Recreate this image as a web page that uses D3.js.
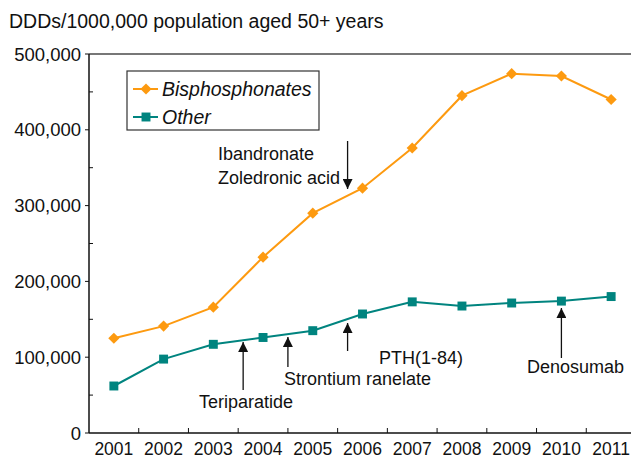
<!DOCTYPE html>
<html>
<head>
<meta charset="utf-8">
<script src="https://cdn.jsdelivr.net/npm/d3@7"></script>
<style>
  body { margin: 0; background: #fff; }
  text { font-family: "Liberation Sans", Arial, sans-serif; fill: #111; }
</style>
</head>
<body>
<script>
var years = ["2001", "2002", "2003", "2004", "2005", "2006", "2007", "2008", "2009", "2010", "2011"];
var bisphosphonates = [125000, 141000, 166000, 232000, 290000, 323000, 376000, 445000, 474000, 471000, 440000];
var other = [62000, 97500, 117000, 126000, 135000, 157000, 173000, 167500, 171500, 174000, 180000];
var yTicks = [0, 100000, 200000, 300000, 400000, 500000];
var yMinorTicks = [50000, 150000, 250000, 350000, 450000];

// annotations: position given as fractional band index
var notes = [
  { lines: ["Ibandronate", "Zoledronic acid"], at: 5.2, dir: "down" },
  { lines: ["Teriparatide"], at: 3.1, dir: "up" },
  { lines: ["Strontium ranelate"], at: 4.0, dir: "up" },
  { lines: ["PTH(1-84)"], at: 5.2, dir: "up" },
  { lines: ["Denosumab"], at: 9.5, dir: "up" }
];

var width = 631, height = 458;
var margin = { top: 54, right: -5, bottom: 25, left: 89 };

var svg = d3.select("body").append("svg")
  .attr("width", width)
  .attr("height", height);

var x = d3.scaleBand().domain(years).range([margin.left, width - margin.right]);
var y = d3.scaleLinear().domain([0, 500000]).range([height - margin.bottom, margin.top]);
var cx = function (i) { return x(years[i]) + x.bandwidth() / 2; };
var fx = function (f) { return margin.left + f * x.bandwidth(); };

var orange = "#fd9a10", teal = "#00847f";

svg.append("text")
  .attr("x", 9).attr("y", 28)
  .style("font-size", "19.5px")
  .text("DDDs/1000,000 population aged 50+ years");

// top frame line
svg.append("line")
  .attr("x1", margin.left).attr("x2", width)
  .attr("y1", y(500000)).attr("y2", y(500000))
  .attr("stroke", "#777").attr("stroke-width", 2);

// y axis
var yAxis = svg.append("g").attr("transform", "translate(" + margin.left + ",0)");
yAxis.append("line").attr("y1", y(0)).attr("y2", y(500000)).attr("stroke", "#111").attr("stroke-width", 1.5);
yAxis.selectAll(".maj").data(yTicks).enter().append("line")
  .attr("x1", -4).attr("x2", 0).attr("y1", y).attr("y2", y).attr("stroke", "#111");
yAxis.selectAll(".min").data(yMinorTicks).enter().append("line")
  .attr("x1", 0).attr("x2", 4).attr("y1", y).attr("y2", y).attr("stroke", "#111");
yAxis.selectAll(".lab").data(yTicks).enter().append("text")
  .attr("x", -8).attr("y", function (d) { return y(d); })
  .attr("dy", "0.36em")
  .attr("text-anchor", "end")
  .style("font-size", "18.5px")
  .text(function (d) { return d3.format(",")(d); });

// x axis
var xAxis = svg.append("g").attr("transform", "translate(0," + y(0) + ")");
xAxis.append("line").attr("x1", margin.left).attr("x2", width).attr("stroke", "#111").attr("stroke-width", 1.5);
xAxis.selectAll(".tk").data(years.slice(1)).enter().append("line")
  .attr("x1", function (d) { return x(d); }).attr("x2", function (d) { return x(d); })
  .attr("y1", 0).attr("y2", -5).attr("stroke", "#111");
xAxis.selectAll(".lab").data(years).enter().append("text")
  .attr("x", function (d, i) { return cx(i); })
  .attr("y", 22)
  .attr("text-anchor", "middle")
  .style("font-size", "17.5px")
  .text(function (d) { return d; });

// lines
var line = d3.line().x(function (d, i) { return cx(i); }).y(function (d) { return y(d); });

svg.append("path").datum(bisphosphonates)
  .attr("fill", "none").attr("stroke", orange).attr("stroke-width", 2).attr("d", line);
svg.append("path").datum(other)
  .attr("fill", "none").attr("stroke", teal).attr("stroke-width", 2).attr("d", line);

var diamond = d3.symbol().type(d3.symbolDiamond2).size(80);
var square = d3.symbol().type(d3.symbolSquare).size(80);

svg.selectAll(".bp").data(bisphosphonates).enter().append("path")
  .attr("d", diamond)
  .attr("fill", orange)
  .attr("transform", function (d, i) { return "translate(" + cx(i) + "," + y(d) + ")"; });
svg.selectAll(".ot").data(other).enter().append("path")
  .attr("d", square)
  .attr("fill", teal)
  .attr("transform", function (d, i) { return "translate(" + cx(i) + "," + y(d) + ")"; });

// legend
var lg = svg.append("g");
lg.append("rect").attr("x", 127).attr("y", 71).attr("width", 192).attr("height", 59)
  .attr("fill", "#fff").attr("stroke", "#333").attr("stroke-width", 1.2);
var items = [{ name: "Bisphosphonates", c: orange, s: diamond, yy: 89 }, { name: "Other", c: teal, s: square, yy: 117 }];
items.forEach(function (it) {
  lg.append("line").attr("x1", 133).attr("x2", 158).attr("y1", it.yy).attr("y2", it.yy)
    .attr("stroke", it.c).attr("stroke-width", 2);
  lg.append("path").attr("d", it.s).attr("fill", it.c)
    .attr("transform", "translate(146," + it.yy + ")");
  lg.append("text").attr("x", 162).attr("y", it.yy).attr("dy", "0.36em")
    .style("font-size", "19.5px").style("font-style", "italic").text(it.name);
});

// annotations
svg.append("defs").append("marker")
  .attr("id", "ah").attr("viewBox", "0 0 10 10")
  .attr("refX", 10).attr("refY", 5)
  .attr("markerWidth", 10).attr("markerHeight", 10)
  .attr("markerUnits", "userSpaceOnUse")
  .attr("orient", "auto")
  .append("path").attr("d", "M0,0L10,5L0,10z").attr("fill", "#111");

function arrow(xp, y1, y2) {
  svg.append("line").attr("x1", xp).attr("x2", xp).attr("y1", y1).attr("y2", y2)
    .attr("stroke", "#111").attr("stroke-width", 1.3).attr("marker-end", "url(#ah)");
}

var fs = "18px";
// Ibandronate / Zoledronic acid
arrow(fx(notes[0].at), 141, 189);
notes[0].lines.forEach(function (t, i) {
  svg.append("text").attr("x", 218).attr("y", 160 + i * 24).style("font-size", fs).text(t);
});
// Teriparatide
arrow(fx(notes[1].at), 390, 342);
svg.append("text").attr("x", 199).attr("y", 408).style("font-size", fs).text(notes[1].lines[0]);
// Strontium ranelate
arrow(fx(notes[2].at), 367, 337);
svg.append("text").attr("x", 284).attr("y", 385).style("font-size", fs).text(notes[2].lines[0]);
// PTH(1-84)
arrow(fx(notes[3].at), 351, 323);
svg.append("text").attr("x", 379).attr("y", 364).style("font-size", fs).text(notes[3].lines[0]);
// Denosumab
arrow(fx(notes[4].at), 358, 308);
svg.append("text").attr("x", 527).attr("y", 373).style("font-size", fs).text(notes[4].lines[0]);
</script>
</body>
</html>
